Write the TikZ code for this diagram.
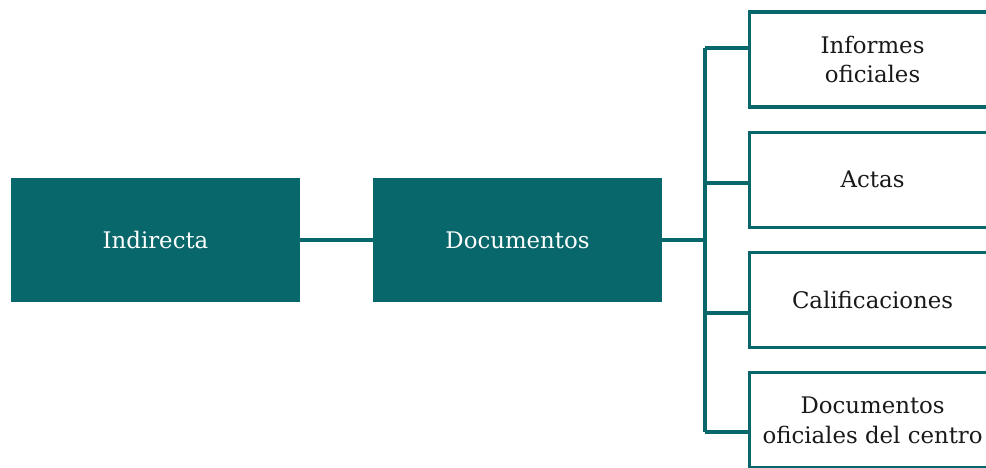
\documentclass[tikz,border=0pt]{standalone}
\usepackage{fontspec}
\setmainfont{DejaVu Serif}
\usetikzlibrary{positioning}
\definecolor{petrol}{HTML}{08676A}

\begin{document}
\begin{tikzpicture}[
    line width = 1.8pt,
    node distance = 0.44cm,
    every node/.style={font=\fontsize{13}{17}\selectfont},
    dark/.style={rectangle, fill=petrol, text=white, outer sep=0pt,
                 minimum width=5.78cm, minimum height=2.48cm},
    leaf/.style={rectangle, draw=petrol, fill=white, text=black!90, align=center,
                 minimum width=4.92cm, minimum height=1.9cm, anchor=west},
    link/.style={draw=petrol}
]
    \useasboundingbox (0,0) rectangle (19.72,-9.34);
    \clip (0,0) rectangle (19.72,-9.34);

    \node[dark] (ind) at (3.11,-4.80) {Indirecta};
    \node[dark, right=1.46cm of ind] (doc) {Documentos};

    \node[leaf] (inf) at (14.96,-1.19) {Informes\\oficiales};
    \node[leaf, below=of inf.south west, anchor=north west] (act) {Actas};
    \node[leaf, below=of act.south west, anchor=north west] (cal) {Calificaciones};
    \node[leaf, below=of cal.south west, anchor=north west] (ofc) {Documentos\\oficiales del centro};

    % junctions on the trunk
    \coordinate (j1) at (14.1,-0.96);
    \coordinate (j2) at (14.1,-3.66);
    \coordinate (j3) at (14.1,-6.26);
    \coordinate (j4) at (14.1,-8.64);

    \draw[link] (ind) -- (doc);
    \draw[link] (doc.east) -- (doc.east -| j1);
    \draw[link] (j1) -- (j4);
    \draw[link] (j1) -- (j1 -| inf.west);
    \draw[link] (j2) -- (j2 -| act.west);
    \draw[link] (j3) -- (j3 -| cal.west);
    \draw[link] (j4) -- (j4 -| ofc.west);
\end{tikzpicture}
\end{document}
